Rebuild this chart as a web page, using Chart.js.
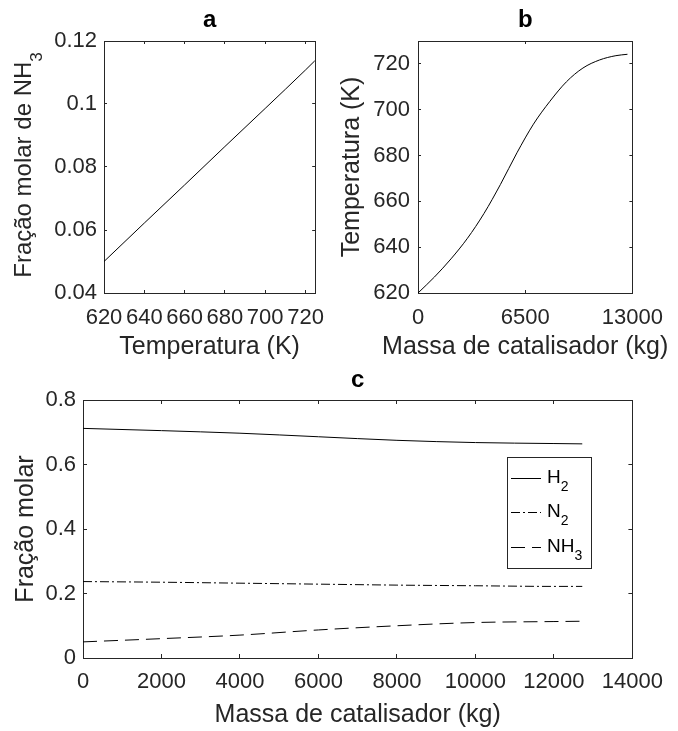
<!DOCTYPE html>
<html>
<head>
<meta charset="utf-8">
<script src="https://cdn.jsdelivr.net/npm/chart.js@4.4.1/dist/chart.umd.min.js"></script>
<style>
  body { margin: 0; background: #fff; }
  #wrap { position: relative; width: 678px; height: 731px; }
  canvas { position: absolute; }
</style>
</head>
<body>
<div id="wrap">
  <canvas id="chartA" width="340" height="365" style="left:0;top:0"></canvas>
  <canvas id="chartB" width="348" height="365" style="left:330px;top:0"></canvas>
  <canvas id="chartC" width="678" height="371" style="left:0;top:360px"></canvas>
</div>
<script>
// panel a - NH3 mole fraction vs temperature
const aTemp = [620, 640, 660, 680, 700, 720, 724.6];
const aNH3 = [0.050, 0.0622, 0.0743, 0.0865, 0.0986, 0.1108, 0.1137];
const aXTicks = [620, 640, 660, 680, 700, 720];
const aYTicks = [0.04, 0.06, 0.08, 0.1, 0.12];

// panel b - temperature along the catalyst bed
const bMass = [0, 1000, 2000, 3000, 4000, 5000, 6000, 7000, 8000, 9000, 10000, 11000, 12000, 12700];
const bTemp = [620, 627.0, 634.9, 643.9, 654.7, 667.4, 681.2, 693.7, 703.7, 712.2, 718.2, 721.7, 723.6, 724.2];
const bXTicks = [0, 6500, 13000];
const bYTicks = [620, 640, 660, 680, 700, 720];

// panel c - mole fractions along the catalyst bed
const cMass = [0, 2000, 4000, 6000, 8000, 10000, 12000, 12722];
const cH2 = [0.712, 0.705, 0.697, 0.686, 0.675, 0.668, 0.665, 0.664];
const cN2 = [0.237, 0.235, 0.232, 0.229, 0.226, 0.224, 0.222, 0.222];
const cNH3 = [0.050, 0.060, 0.071, 0.087, 0.100, 0.110, 0.113, 0.114];
const cXTicks = [0, 2000, 4000, 6000, 8000, 10000, 12000, 14000];
const cYTicks = [0, 0.2, 0.4, 0.6, 0.8];
const cLegend = [['H', '2'], ['N', '2'], ['NH', '3']];

const AXIS = '#262626';
const FONT = "'Liberation Sans', Arial, sans-serif";
Chart.defaults.font.family = FONT;
Chart.defaults.color = AXIS;
Chart.defaults.animation = false;

function points(xs, ys) {
    return xs.map((x, i) => ({ x: x, y: ys[i] }));
}

function setTicks(values) {
    return scale => { scale.ticks = values.map(v => ({ value: v })); };
}

// text with a lowered subscript, baseline 'middle' at y
function drawSubText(ctx, parts, x, y, size, drop, align) {
    const subSize = Math.round(size * 0.72);
    const widths = parts.map(([t, sub]) => {
        ctx.font = (sub ? subSize : size) + 'px ' + FONT;
        return ctx.measureText(t).width;
    });
    const total = widths.reduce((a, b) => a + b, 0);
    let cx = align === 'center' ? x - total / 2 : x;
    ctx.textAlign = 'left';
    ctx.textBaseline = 'middle';
    parts.forEach(([t, sub], i) => {
        ctx.font = (sub ? subSize : size) + 'px ' + FONT;
        ctx.fillText(t, cx, sub ? y + size * drop : y);
        cx += widths[i];
    });
}

// bottom/left axes plus mirrored top/right ones, ticks pointing inward
function makeScales(p) {
    const grid = { drawOnChartArea: false, color: AXIS, tickLength: -p.tick, lineWidth: 1 };
    const border = { display: true, color: AXIS, width: 1 };
    return {
        x: {
            type: 'linear', position: 'bottom', min: p.xMin, max: p.xMax,
            afterBuildTicks: setTicks(p.xTicks),
            afterFit: s => { s.height = p.bottom; },
            grid: grid, border: border,
            ticks: { font: { size: 22 }, padding: p.xPad, maxRotation: 0, autoSkip: false, callback: v => String(v) },
            title: { display: !!p.xTitle, text: p.xTitle || '', font: { size: 25 }, padding: { top: 0, bottom: p.xTitlePad } }
        },
        x2: {
            type: 'linear', position: 'top', min: p.xMin, max: p.xMax,
            afterBuildTicks: setTicks(p.xTicks),
            afterFit: s => { s.height = p.top; },
            grid: grid, border: border,
            ticks: { display: false },
            title: { display: true, text: p.letter, color: '#000', font: { size: 24, weight: 'bold' }, padding: { top: p.letterPad, bottom: 0 } }
        },
        y: {
            type: 'linear', position: 'left', min: p.yMin, max: p.yMax,
            afterBuildTicks: setTicks(p.yTicks),
            afterFit: s => { s.width = p.left; },
            grid: grid, border: border,
            ticks: { font: { size: 22 }, padding: p.yPad, autoSkip: false, callback: v => String(v) },
            title: { display: !!p.yTitle, text: p.yTitle || '', font: { size: 25 }, padding: { top: p.yTitlePad, bottom: 0 } }
        },
        y2: {
            type: 'linear', position: 'right', min: p.yMin, max: p.yMax,
            afterBuildTicks: setTicks(p.yTicks),
            afterFit: s => { s.width = 0; },
            grid: grid, border: border,
            ticks: { display: false }
        }
    };
}

function line(data, dash) {
    return {
        data: data, xAxisID: 'x', yAxisID: 'y',
        borderColor: '#000', borderWidth: 1, borderDash: dash || [],
        pointRadius: 0, fill: false, cubicInterpolationMode: 'monotone'
    };
}

const basePlugins = { legend: { display: false }, tooltip: { enabled: false } };

// panel a y title carries a subscript, so it is drawn by hand
const yTitleA = {
    id: 'yTitleA',
    afterDraw(chart) {
        const ctx = chart.ctx;
        ctx.save();
        ctx.translate(24, 165);
        ctx.rotate(-Math.PI / 2);
        ctx.fillStyle = AXIS;
        drawSubText(ctx, [['Fração molar de NH', false], ['3', true]], 0, 0, 24, 0.55, 'center');
        ctx.restore();
    }
};

new Chart(document.getElementById('chartA'), {
    type: 'line',
    data: { datasets: [line(points(aTemp, aNH3))] },
    options: {
        responsive: false, devicePixelRatio: 1,
        layout: { padding: { right: 16 } },
        plugins: basePlugins,
        scales: makeScales({
            xMin: 620, xMax: 724.8, yMin: 0.04, yMax: 0.12,
            xTicks: aXTicks, yTicks: aYTicks, tick: 3,
            left: 104, top: 41, bottom: 72,
            xPad: 15, yPad: 10, xTitlePad: 3, letterPad: 6.4,
            xTitle: 'Temperatura (K)', letter: 'a'
        })
    },
    plugins: [yTitleA]
});

// panel b x title is wider than the axis, so Chart.js would squeeze it
const xTitleB = {
    id: 'xTitleB',
    afterDraw(chart) {
        const ctx = chart.ctx;
        const area = chart.chartArea;
        ctx.save();
        ctx.fillStyle = AXIS;
        ctx.font = '25px ' + FONT;
        ctx.textAlign = 'center';
        ctx.textBaseline = 'middle';
        ctx.fillText('Massa de catalisador (kg)', (area.left + area.right) / 2, 347);
        ctx.restore();
    }
};

new Chart(document.getElementById('chartB'), {
    type: 'line',
    data: { datasets: [line(points(bMass, bTemp))] },
    options: {
        responsive: false, devicePixelRatio: 1,
        layout: { padding: { right: 40 } },
        plugins: basePlugins,
        scales: makeScales({
            xMin: 0, xMax: 13000, yMin: 620, yMax: 730,
            xTicks: bXTicks, yTicks: bYTicks, tick: 3,
            left: 88, top: 41, bottom: 72,
            xPad: 15, yPad: 11, letterPad: 6.4, yTitlePad: 6.7,
            yTitle: 'Temperatura (K)', letter: 'b'
        })
    },
    plugins: [xTitleB]
});

// legend box for panel c, built from the datasets' dash styles
const legendC = {
    id: 'legendC',
    afterDraw(chart) {
        const ctx = chart.ctx;
        const rows = [118, 152, 187];
        ctx.save();
        ctx.fillStyle = '#fff';
        ctx.fillRect(507.5, 97.5, 84, 111);
        ctx.strokeStyle = AXIS;
        ctx.lineWidth = 1;
        ctx.strokeRect(507.5, 97.5, 84, 111);
        chart.data.datasets.forEach((ds, i) => {
            ctx.strokeStyle = ds.borderColor;
            ctx.setLineDash(ds.borderDash);
            ctx.beginPath();
            ctx.moveTo(511, rows[i] + 0.5);
            ctx.lineTo(541, rows[i] + 0.5);
            ctx.stroke();
            ctx.setLineDash([]);
            ctx.fillStyle = '#000';
            drawSubText(ctx, [[cLegend[i][0], false], [cLegend[i][1], true]], 547, rows[i], 19, 0.5, 'left');
        });
        ctx.restore();
    }
};

new Chart(document.getElementById('chartC'), {
    type: 'line',
    data: {
        datasets: [
            line(points(cMass, cH2)),
            line(points(cMass, cN2), [9, 3, 2, 3]),
            line(points(cMass, cNH3), [14, 7])
        ]
    },
    options: {
        responsive: false, devicePixelRatio: 1,
        layout: { padding: { right: 35 } },
        plugins: basePlugins,
        scales: makeScales({
            xMin: 0, xMax: 14000, yMin: 0, yMax: 0.8,
            xTicks: cXTicks, yTicks: cYTicks, tick: 4,
            left: 83, top: 40, bottom: 73,
            xPad: 15, yPad: 11, xTitlePad: 1, letterPad: 5.9, yTitlePad: 11.4,
            xTitle: 'Massa de catalisador (kg)', yTitle: 'Fração molar', letter: 'c'
        })
    },
    plugins: [legendC]
});
</script>
</body>
</html>
